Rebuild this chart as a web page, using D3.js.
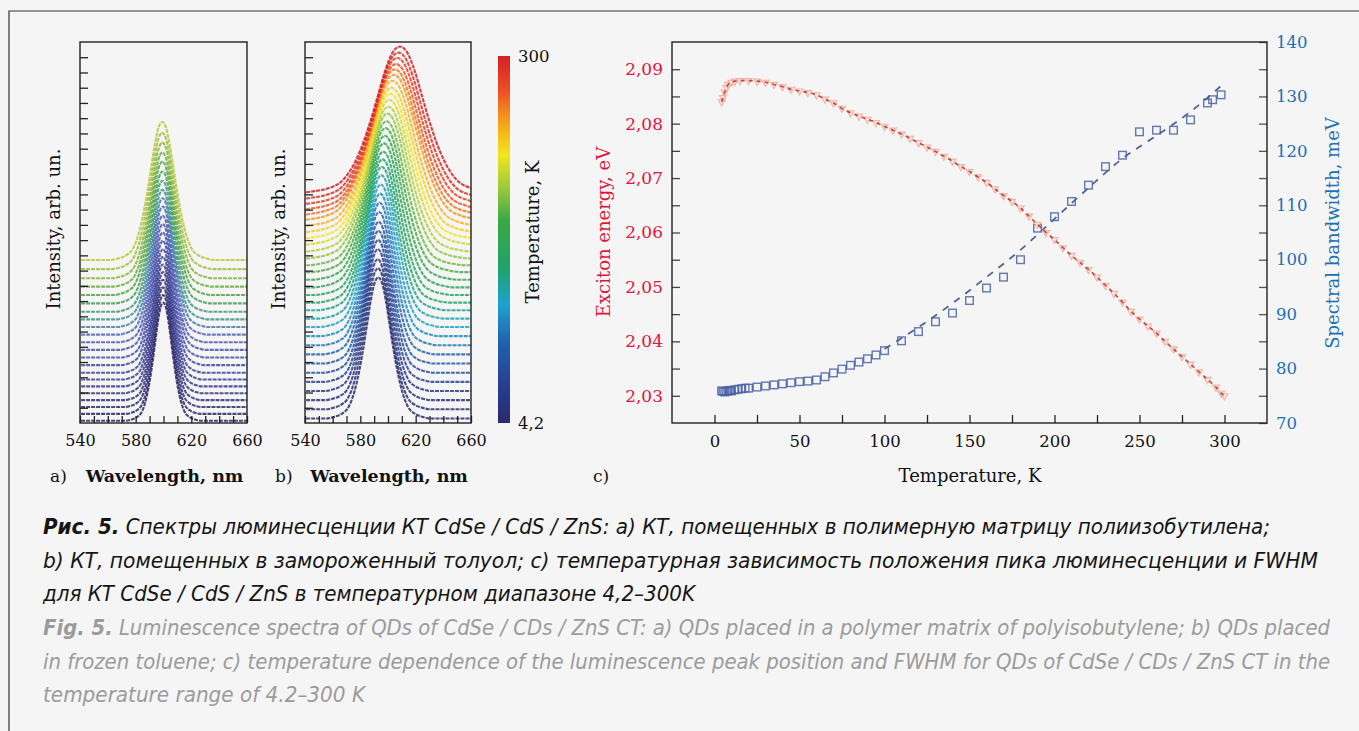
<!DOCTYPE html>
<html>
<head>
<meta charset="utf-8">
<script src="https://cdn.jsdelivr.net/npm/d3@7"></script>
<style>
  body { margin: 0; background: #f5f5f5; }
</style>
</head>
<body>
<script>
// --- Constants ---
const W = 1359, H = 731;
const TOP = 42, BOTTOM = 423;
const A = { x0: 80, x1: 247 };
const B = { x0: 305, x1: 471 };
const C = { x0: 672, x1: 1267 };
const CBAR = { x: 498, w: 12, y0: 56, y1: 423 };
const SERIF = "'DejaVu Serif', serif";
const RED = "#e3143a", BLUE = "#1c6fb6";

// --- Data: panel a (polyisobutylene matrix) ---
const aTemps     = [4.2, 10, 20, 30, 40, 50, 60, 70, 80, 90, 100, 110, 120, 130, 140, 150, 160, 170, 180, 190, 200, 210];
const aBase      = [0.15, 0.6, 1.05, 1.5, 1.95, 2.4, 2.85, 3.3, 3.8, 4.3, 4.8, 5.3, 5.8, 6.3, 6.8, 7.3, 7.85, 8.4, 8.95, 9.5, 10.1, 10.7];
const aHeight    = [7.75, 7.8, 7.85, 7.9, 7.95, 8.0, 8.05, 8.1, 8.15, 8.2, 8.25, 8.3, 8.4, 8.45, 8.5, 8.6, 8.65, 8.75, 8.8, 8.9, 8.95, 9.05];
const aCenter    = [599.8, 599.8, 599.7, 599.7, 599.7, 599.6, 599.6, 599.6, 599.5, 599.5, 599.5, 599.4, 599.4, 599.4, 599.3, 599.3, 599.3, 599.2, 599.2, 599.2, 599.1, 599.1];
const aHalfWidth = [7.6, 7.6, 7.7, 7.8, 7.9, 8.0, 8.1, 8.2, 8.4, 8.5, 8.7, 8.8, 9.0, 9.2, 9.3, 9.5, 9.7, 9.9, 10.0, 10.2, 10.4, 10.6];

// --- Data: panel b (frozen toluene) ---
const bTemps     = [4.2, 10, 20, 30, 40, 50, 60, 70, 80, 90, 100, 110, 120, 130, 140, 150, 160, 170, 180, 190, 200, 210, 220, 230, 240, 250, 260, 270, 280, 290, 300];
const bBase      = [0.3, 0.9, 1.5, 2.1, 2.7, 3.3, 3.9, 4.5, 5.1, 5.7, 6.3, 6.85, 7.4, 7.9, 8.4, 8.9, 9.4, 9.9, 10.35, 10.8, 11.25, 11.7, 12.1, 12.5, 12.9, 13.3, 13.65, 14.0, 14.35, 14.7, 15.1];
const bHeight    = [9.25, 9.25, 9.25, 9.3, 9.3, 9.3, 9.3, 9.35, 9.35, 9.35, 9.35, 9.4, 9.4, 9.4, 9.4, 9.45, 9.45, 9.45, 9.45, 9.5, 9.5, 9.5, 9.5, 9.5, 9.55, 9.55, 9.55, 9.55, 9.6, 9.6, 9.6];
const bCenter    = [593, 592.7, 592.6, 592.7, 592.9, 593.1, 593.3, 593.6, 594.0, 594.4, 594.8, 595.2, 595.6, 596.1, 596.6, 597.1, 597.7, 598.3, 598.9, 599.6, 600.3, 601.0, 601.7, 602.5, 603.3, 604.2, 604.9, 605.8, 606.7, 607.6, 608.6];
const bHalfWidth = [10.8, 10.8, 10.9, 11.0, 11.1, 11.2, 11.3, 11.6, 11.9, 12.2, 12.5, 12.9, 13.2, 13.6, 14.0, 14.5, 15.0, 15.5, 16.1, 16.8, 17.2, 17.7, 18.2, 18.7, 19.1, 19.7, 19.8, 19.9, 20.2, 20.6, 21.0];

// line shape (offset in half-widths -> relative height)
const shapeU = [0, 0.25, 0.5, 0.75, 1, 1.25, 1.5, 1.75, 2, 2.5, 3, 3.5];
const shapeV = [1, 0.96, 0.84, 0.67, 0.5, 0.35, 0.23, 0.14, 0.08, 0.03, 0.01, 0];

// colour bar (fraction of 4.2..300 K -> colour)
const cbarStops  = [0, 0.1, 0.22, 0.32, 0.42, 0.55, 0.64, 0.73, 0.82, 0.9, 1];
const cbarColors = ["#2a2b6a", "#283d8f", "#2161ad", "#1ea0d0", "#1fa36c", "#3aa844", "#9cc93b", "#f4e51c", "#f6a11c", "#ee5323", "#d61f26"];
const aColorStops = [0, 0.25, 0.55, 0.65, 0.8, 1];
const aColors     = ["#2a2462", "#3b3c92", "#5060bb", "#3d8f9a", "#4ea444", "#b9c738"];

const waveTicks = [540, 550, 560, 570, 580, 590, 600, 610, 620, 630, 640, 650, 660];
const waveLabels = [540, 580, 620, 660];
const intensityTicks = d3.range(1, 25);

// --- Data: panel c ---
const energyT = [4.2, 5, 6, 7, 8, 10, 12, 15, 20, 25, 30, 35, 40, 45, 50, 55, 60, 65, 70, 75, 80, 85, 90, 95, 100,
  105, 110, 115, 120, 125, 130, 135, 140, 145, 150, 155, 160, 165, 170, 175, 180, 185, 190, 195, 200,
  205, 210, 215, 220, 225, 230, 235, 240, 245, 250, 255, 260, 265, 270, 275, 280, 285, 290, 295, 298, 300];
const energyE = [2.0840, 2.0848, 2.0858, 2.0866, 2.0872, 2.0876, 2.0878, 2.0879, 2.0879, 2.0878, 2.0876, 2.0872, 2.0868, 2.0863, 2.0860, 2.0857, 2.0853, 2.0845, 2.0838, 2.0828, 2.0820, 2.0814, 2.0808, 2.0802, 2.0795,
  2.0788, 2.0781, 2.0773, 2.0765, 2.0757, 2.0749, 2.0740, 2.0731, 2.0721, 2.0712, 2.0702, 2.0692, 2.0680, 2.0668, 2.0657, 2.0645, 2.0630, 2.0615, 2.0600, 2.0587,
  2.0572, 2.0558, 2.0545, 2.0532, 2.0518, 2.0503, 2.0488, 2.0472, 2.0455, 2.0441, 2.0428, 2.0415, 2.0400, 2.0386, 2.0372, 2.0358, 2.0344, 2.0330, 2.0316, 2.0305, 2.0300];

const widthT = [4.2, 5, 6, 7, 8, 9, 10, 12, 14, 16, 18, 20, 25, 30, 35, 40, 45, 50, 55, 60, 65, 70, 75, 80, 85, 90, 95, 100,
  110, 120, 130, 140, 150, 160, 170, 180, 190, 200, 210, 220, 230, 240, 250, 260, 270, 280, 290, 293, 298];
const widthW = [75.9, 75.8, 75.7, 75.8, 75.9, 76.0, 75.9, 76.1, 76.2, 76.3, 76.4, 76.4, 76.6, 76.8, 77.0, 77.2, 77.4, 77.6, 77.7, 77.9, 78.5, 79.2, 79.9, 80.6, 81.2, 81.8, 82.5, 83.3,
  85.1, 86.8, 88.6, 90.2, 92.5, 94.8, 96.8, 100.0, 105.8, 107.9, 110.7, 113.7, 117.1, 119.2, 123.5, 123.8, 123.8, 125.7, 128.8, 129.4, 130.3];
const fitT = [100, 120, 140, 160, 180, 200, 220, 240, 260, 280, 300];
const fitW = [83.6, 87.6, 92.0, 96.8, 101.8, 107.5, 113.2, 118.6, 122.8, 127.2, 132.5];

const tempTicks = [0, 25, 50, 75, 100, 125, 150, 175, 200, 225, 250, 275, 300];
const tempLabels = [0, 50, 100, 150, 200, 250, 300];
const energyTicks = [2.03, 2.035, 2.04, 2.045, 2.05, 2.055, 2.06, 2.065, 2.07, 2.075, 2.08, 2.085, 2.09];
const energyLabels = [2.03, 2.04, 2.05, 2.06, 2.07, 2.08, 2.09];
const bwTicks = [70, 75, 80, 85, 90, 95, 100, 105, 110, 115, 120, 125, 130, 135, 140];
const bwLabels = [70, 80, 90, 100, 110, 120, 130, 140];

const captionRu = [
  { bold: "Рис. 5.", text: " Спектры люминесценции КТ CdSe / CdS / ZnS: a) КТ, помещенных в полимерную матрицу полиизобутилена;", w: 1227 },
  { bold: "", text: "b) КТ, помещенных в замороженный толуол; c) температурная зависимость положения пика люминесценции и FWHM", w: 1275 },
  { bold: "", text: "для КТ CdSe / CdS / ZnS в температурном диапазоне 4,2–300K", w: 652 }
];
const captionEn = [
  { bold: "Fig. 5.", text: " Luminescence spectra of QDs of CdSe / CDs / ZnS CT: a) QDs placed in a polymer matrix of polyisobutylene; b) QDs placed", w: 1287 },
  { bold: "", text: "in frozen toluene; c) temperature dependence of the luminescence peak position and FWHM for QDs of CdSe / CDs / ZnS CT in the", w: 1287 },
  { bold: "", text: "temperature range of 4.2–300 K", w: 322 }
];

// --- SVG Setup ---
const svg = d3.select("body").append("svg")
  .attr("width", W).attr("height", H)
  .style("display", "block");

svg.append("rect").attr("width", W).attr("height", H).attr("fill", "#f5f5f5");

// outer frame (top + left edges visible)
svg.append("path")
  .attr("d", `M9,${H}V11H${W}`)
  .attr("fill", "none").attr("stroke", "#333").attr("stroke-width", 1.2);

const defs = svg.append("defs");

// --- Scales ---
const yI = d3.scaleLinear([0, 25], [BOTTOM, TOP]);
const xA = d3.scaleLinear([540, 660], [A.x0, A.x1]);
const xB = d3.scaleLinear([540, 660], [B.x0, B.x1]);
const tempFrac = d3.scaleLinear([4.2, 300], [0, 1]);
const bColor = d3.scaleLinear(cbarStops, cbarColors);
const aFrac = d3.scaleLinear([4.2, 210], [0, 1]);
const aColor = d3.scaleLinear(aColorStops, aColors);

const xC = d3.scaleLinear([-25, 325], [C.x0, C.x1]);
const yE = d3.scaleLinear([2.025, 2.095], [BOTTOM, TOP]);
const yBW = d3.scaleLinear([70, 140], [BOTTOM, TOP]);

// --- Spectra panels ---
function spectrum(center, hw, base, height) {
  const pts = [];
  for (let i = shapeU.length - 1; i > 0; i--) pts.push([center - shapeU[i] * hw, base + height * shapeV[i]]);
  for (let i = 0; i < shapeU.length; i++) pts.push([center + shapeU[i] * hw, base + height * shapeV[i]]);
  if (pts[0][0] > 530) pts.unshift([530, base]);
  if (pts[pts.length - 1][0] < 670) pts.push([670, base]);
  return pts;
}

function spectraPanel(id, box, x, curves, colorOf) {
  defs.append("clipPath").attr("id", "clip-" + id)
    .append("rect").attr("x", box.x0).attr("y", TOP)
    .attr("width", box.x1 - box.x0).attr("height", BOTTOM - TOP);

  const g = svg.append("g").attr("clip-path", `url(#clip-${id})`);
  const line = d3.line().x(d => x(d[0])).y(d => yI(d[1])).curve(d3.curveMonotoneX);

  g.selectAll("path").data(curves).enter().append("path")
    .attr("d", d => line(spectrum(d.center, d.hw, d.base, d.height)))
    .attr("fill", "none")
    .attr("stroke", d => colorOf(d.temp))
    .attr("stroke-width", 2.1)
    .attr("stroke-dasharray", "4,1")
    .attr("opacity", 0.85);

  // ticks over data
  svg.append("g").attr("transform", `translate(0,${BOTTOM})`)
    .call(d3.axisBottom(x).tickValues(waveTicks).tickSize(-7).tickPadding(12)
      .tickFormat(d => waveLabels.includes(d) ? d : ""))
    .call(a => a.select(".domain").remove())
    .call(a => a.selectAll("line").attr("stroke", "#222").attr("stroke-width", 1.3))
    .call(a => a.selectAll("text").attr("font-family", SERIF).attr("font-size", 16).attr("fill", "#111"));

  svg.append("g").attr("transform", `translate(${box.x0},0)`)
    .call(d3.axisLeft(yI).tickValues(intensityTicks).tickSize(-8).tickFormat(""))
    .call(a => a.select(".domain").remove())
    .call(a => a.selectAll("line").attr("stroke", "#222").attr("stroke-width", 1.3));

  svg.append("rect")
    .attr("x", box.x0).attr("y", TOP)
    .attr("width", box.x1 - box.x0).attr("height", BOTTOM - TOP)
    .attr("fill", "none").attr("stroke", "#222").attr("stroke-width", 1.4);
}

const aCurves = aTemps.map((t, i) => ({ temp: t, base: aBase[i], height: aHeight[i], center: aCenter[i], hw: aHalfWidth[i] }));
const bCurves = bTemps.map((t, i) => ({ temp: t, base: bBase[i], height: bHeight[i], center: bCenter[i], hw: bHalfWidth[i] }));

spectraPanel("a", A, xA, aCurves, t => aColor(aFrac(t)));
spectraPanel("b", B, xB, bCurves, t => bColor(tempFrac(t)));

// axis titles for a and b
[[53, 229], [278, 229]].forEach(([cx, cy]) => {
  svg.append("text")
    .attr("transform", `translate(${cx},${cy}) rotate(-90)`)
    .attr("text-anchor", "middle").attr("dominant-baseline", "central")
    .attr("font-family", SERIF).attr("font-size", 18).attr("fill", "#111")
    .text("Intensity, arb. un.");
});

function panelLabel(x, y, letter, title, xTitle) {
  svg.append("text").attr("x", x).attr("y", y)
    .attr("font-family", SERIF).attr("font-size", 17).attr("fill", "#111")
    .text(letter);
  if (title) {
    svg.append("text").attr("x", xTitle).attr("y", y)
      .attr("text-anchor", "middle")
      .attr("font-family", SERIF).attr("font-size", 17.5).attr("font-weight", "bold").attr("fill", "#111")
      .text(title);
  }
}
panelLabel(50, 482, "a)", "Wavelength, nm", (A.x0 + A.x1) / 2 + 1);
panelLabel(275, 482, "b)", "Wavelength, nm", (B.x0 + B.x1) / 2 + 1);
panelLabel(593, 482, "c)", null);

// --- Colour bar ---
const grad = defs.append("linearGradient").attr("id", "cbar")
  .attr("x1", 0).attr("y1", 1).attr("x2", 0).attr("y2", 0);
grad.selectAll("stop").data(cbarStops).enter().append("stop")
  .attr("offset", d => d)
  .attr("stop-color", (d, i) => cbarColors[i]);

svg.append("rect")
  .attr("x", CBAR.x).attr("y", CBAR.y0)
  .attr("width", CBAR.w).attr("height", CBAR.y1 - CBAR.y0)
  .attr("fill", "url(#cbar)");

svg.append("text").attr("x", 518).attr("y", CBAR.y0)
  .attr("dominant-baseline", "central")
  .attr("font-family", SERIF).attr("font-size", 16.5).attr("fill", "#111").text("300");
svg.append("text").attr("x", 518).attr("y", CBAR.y1)
  .attr("dominant-baseline", "central")
  .attr("font-family", SERIF).attr("font-size", 16.5).attr("fill", "#111").text("4,2");
svg.append("text")
  .attr("transform", `translate(532,232) rotate(-90)`)
  .attr("text-anchor", "middle").attr("dominant-baseline", "central")
  .attr("font-family", SERIF).attr("font-size", 18).attr("fill", "#111")
  .text("Temperature, K");

// --- Panel c ---
const gC = svg.append("g");

// bandwidth fit (dashed) and squares
const fitLine = d3.line().x((d, i) => xC(fitT[i])).y(d => yBW(d)).curve(d3.curveMonotoneX);
gC.append("path").attr("d", fitLine(fitW))
  .attr("fill", "none").attr("stroke", "#3d5586").attr("stroke-width", 1.8)
  .attr("stroke-dasharray", "7,7").attr("opacity", 0.9);

gC.selectAll("rect.bw").data(widthW).enter().append("rect")
  .attr("class", "bw")
  .attr("x", (d, i) => xC(widthT[i]) - 3.8).attr("y", d => yBW(d) - 3.8)
  .attr("width", 7.6).attr("height", 7.6)
  .attr("fill", "none").attr("stroke", "#4a62a6").attr("stroke-width", 1.4)
  .attr("opacity", 0.85);

// exciton energy: faint open triangles + dark dashed line
const tri = d3.symbol(d3.symbolTriangle, 22);
gC.selectAll("path.en").data(energyE).enter().append("path")
  .attr("class", "en")
  .attr("transform", (d, i) => `translate(${xC(energyT[i])},${yE(d)}) rotate(180)`)
  .attr("d", tri)
  .attr("fill", "#fbe3dc").attr("stroke", "#f2ad9c").attr("stroke-width", 1.1)
  .attr("opacity", 0.9);

const enLine = d3.line().x((d, i) => xC(energyT[i])).y(d => yE(d)).curve(d3.curveMonotoneX);
gC.append("path").attr("d", enLine(energyE))
  .attr("fill", "none").attr("stroke", "#b3322a").attr("stroke-width", 1.7)
  .attr("stroke-dasharray", "4,4").attr("opacity", 0.85);

// axes
svg.append("g").attr("transform", `translate(0,${BOTTOM})`)
  .call(d3.axisBottom(xC).tickValues(tempTicks).tickSize(-8).tickPadding(12)
    .tickFormat(d => tempLabels.includes(d) ? d : ""))
  .call(a => a.select(".domain").remove())
  .call(a => a.selectAll("line").attr("stroke", "#222").attr("stroke-width", 1.3))
  .call(a => a.selectAll("text").attr("font-family", SERIF).attr("font-size", 16.5).attr("fill", "#111"));

const commaFmt = d => d3.format(".2f")(d).replace(".", ",");
svg.append("g").attr("transform", `translate(${C.x0},0)`)
  .call(d3.axisLeft(yE).tickValues(energyTicks).tickSize(-8).tickPadding(9)
    .tickFormat(d => energyLabels.some(v => Math.abs(v - d) < 1e-6) ? commaFmt(d) : ""))
  .call(a => a.select(".domain").remove())
  .call(a => a.selectAll("line").attr("stroke", "#444").attr("stroke-width", 1.3))
  .call(a => a.selectAll("text").attr("font-family", SERIF).attr("font-size", 17).attr("fill", RED));

svg.append("g").attr("transform", `translate(${C.x1},0)`)
  .call(d3.axisRight(yBW).tickValues(bwTicks).tickSize(-8).tickPadding(9)
    .tickFormat(d => bwLabels.includes(d) ? d : ""))
  .call(a => a.select(".domain").remove())
  .call(a => a.selectAll("line").attr("stroke", "#555").attr("stroke-width", 1.3))
  .call(a => a.selectAll("text").attr("font-family", SERIF).attr("font-size", 16.5).attr("fill", BLUE));

svg.append("rect")
  .attr("x", C.x0).attr("y", TOP)
  .attr("width", C.x1 - C.x0).attr("height", BOTTOM - TOP)
  .attr("fill", "none").attr("stroke", "#222").attr("stroke-width", 1.4);

svg.append("text")
  .attr("transform", `translate(603,232) rotate(-90)`)
  .attr("text-anchor", "middle").attr("dominant-baseline", "central")
  .attr("font-family", SERIF).attr("font-size", 18).attr("fill", RED)
  .text("Exciton energy, eV");
svg.append("text")
  .attr("transform", `translate(1332,233) rotate(-90)`)
  .attr("text-anchor", "middle").attr("dominant-baseline", "central")
  .attr("font-family", SERIF).attr("font-size", 18).attr("fill", BLUE)
  .text("Spectral bandwidth, meV");
svg.append("text").attr("x", 970).attr("y", 482)
  .attr("text-anchor", "middle")
  .attr("font-family", SERIF).attr("font-size", 18).attr("fill", "#111")
  .text("Temperature, K");

// --- Caption ---
const CAP_FONT = "'Liberation Sans Narrow', 'DejaVu Sans Condensed', 'Open Sans', sans-serif";
function captionLines(lines, y0, color) {
  lines.forEach((ln, i) => {
    const t = svg.append("text")
      .attr("x", 43).attr("y", y0 + i * 33.5)
      .attr("font-family", CAP_FONT).attr("font-size", 21)
      .attr("font-style", "italic").attr("fill", color)
      .attr("textLength", ln.w).attr("lengthAdjust", "spacingAndGlyphs");
    if (ln.bold) t.append("tspan").attr("font-weight", "bold").text(ln.bold);
    t.append("tspan").text(ln.text);
  });
}
captionLines(captionRu, 534, "#151515");
captionLines(captionEn, 635, "#9b9b9b");
</script>
</body>
</html>
